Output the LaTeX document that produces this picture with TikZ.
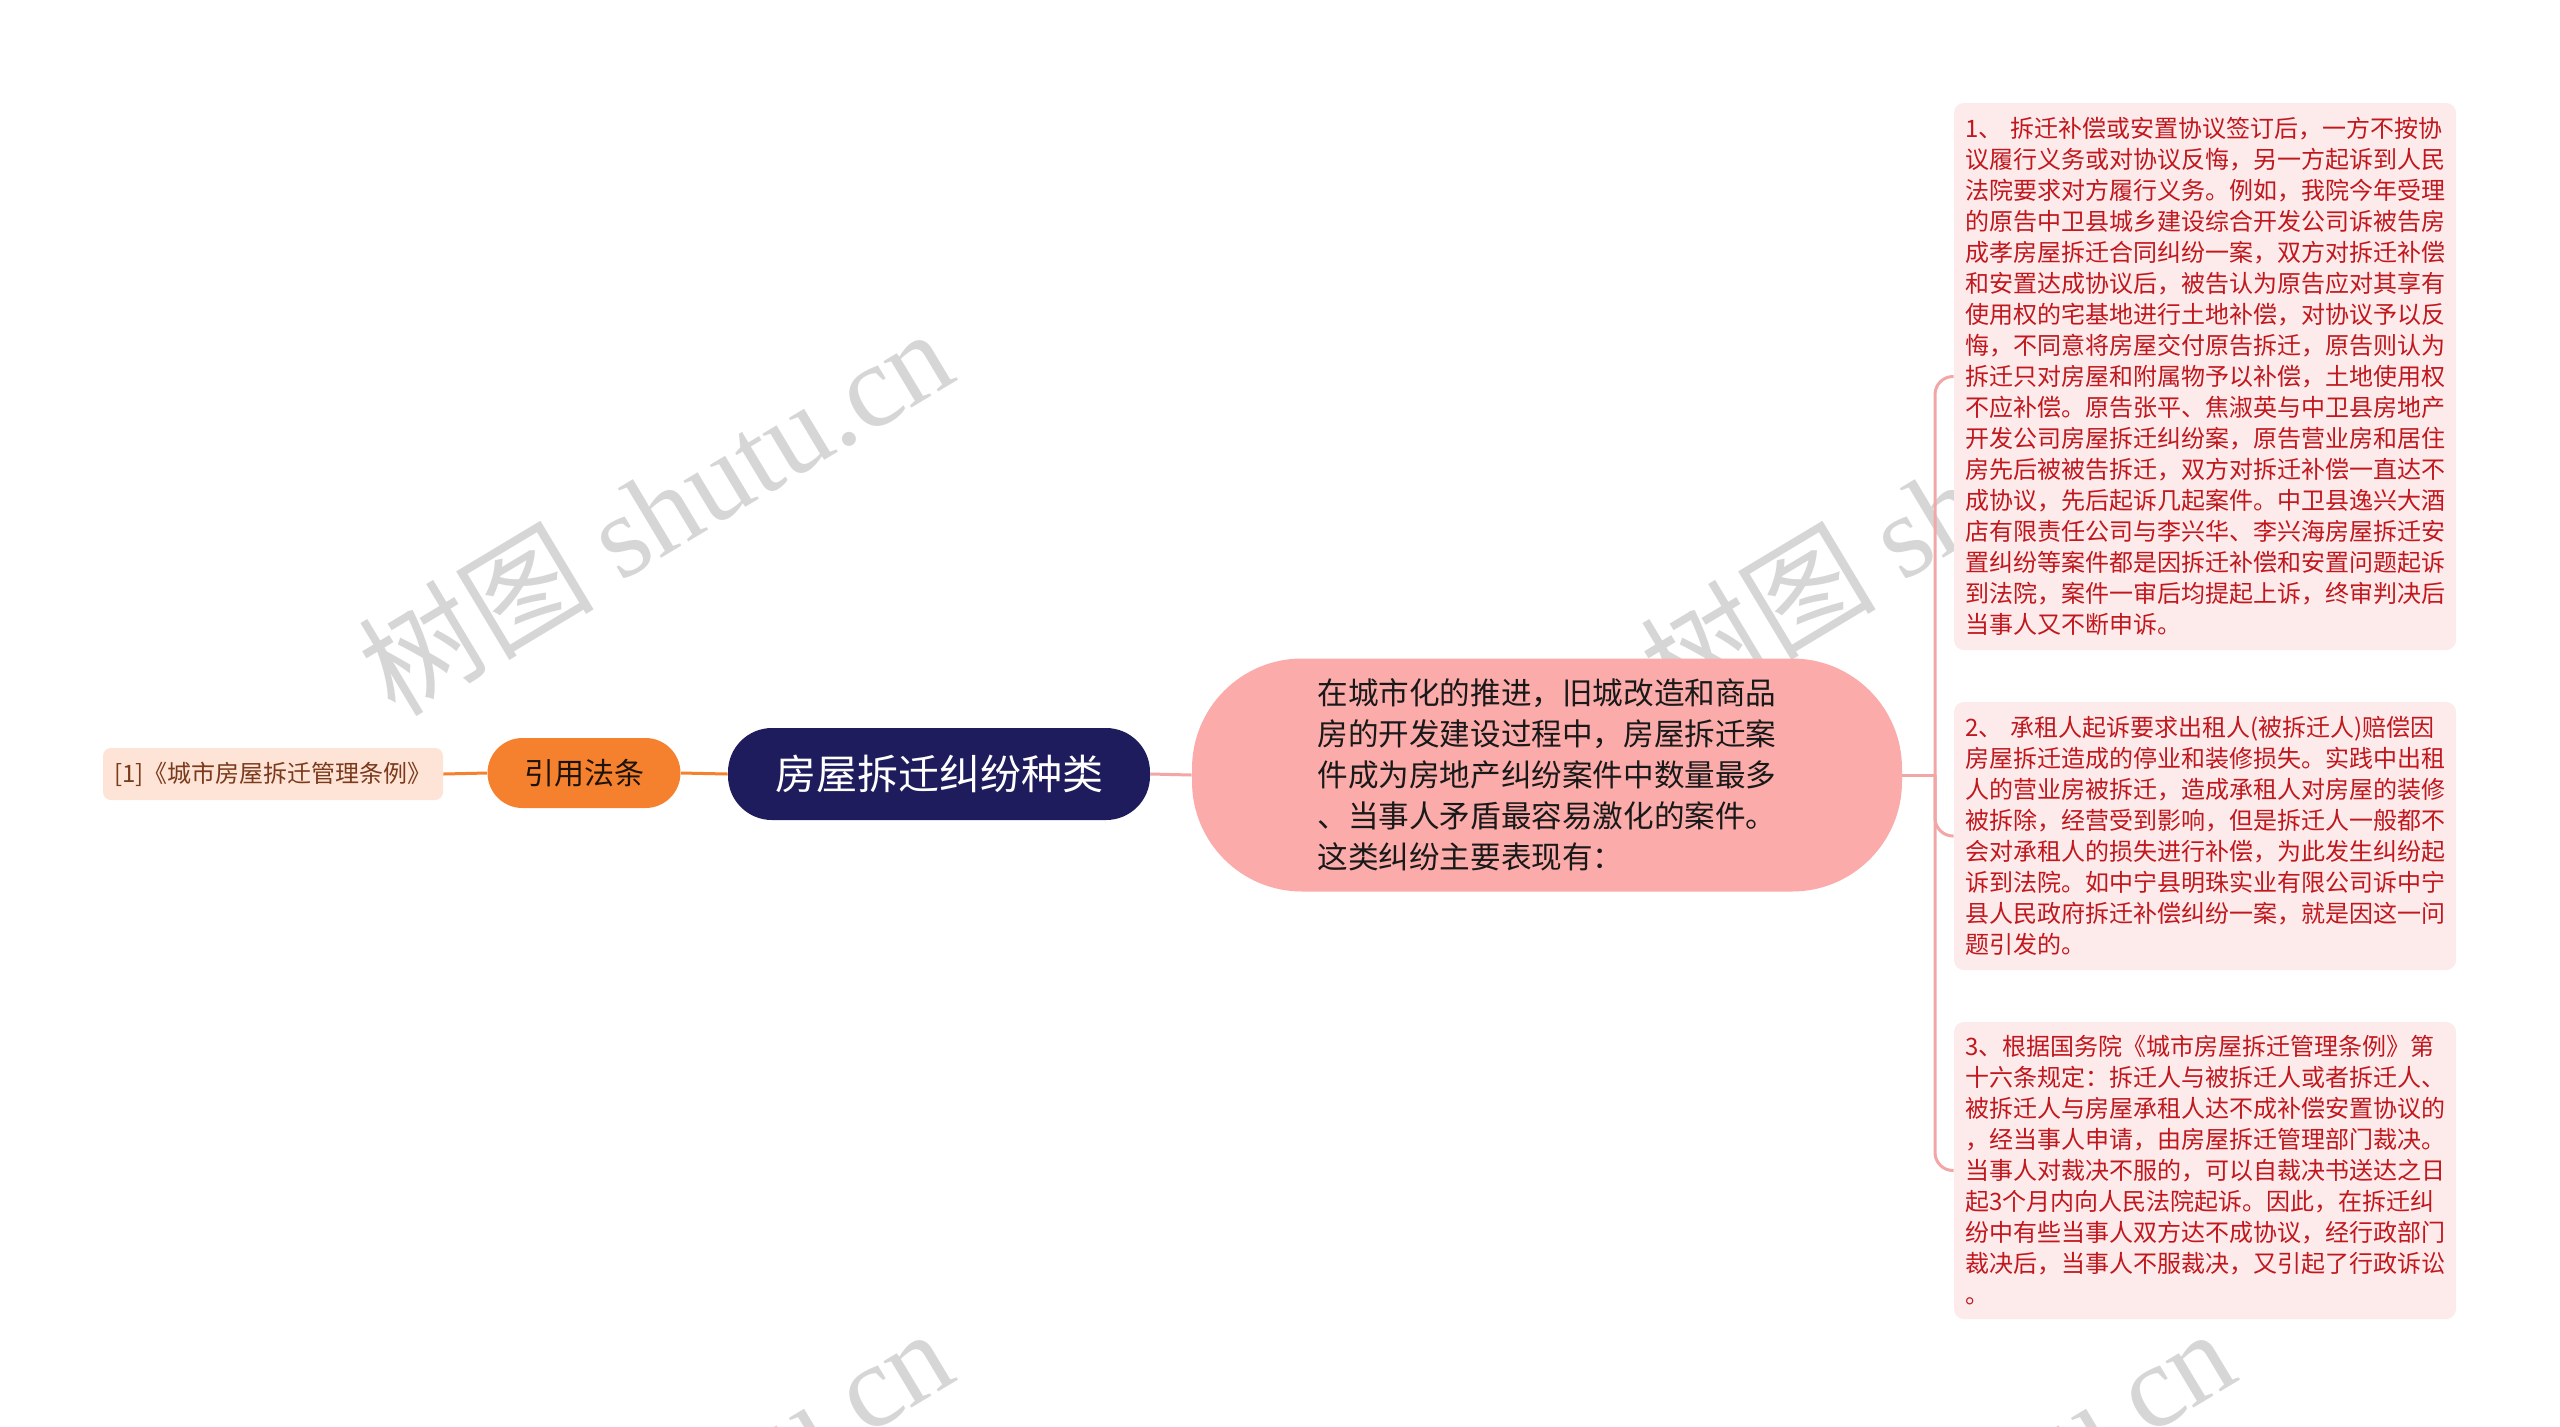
\documentclass[tikz,border=0pt]{standalone}
\usepackage{fontspec}
\setmainfont{Noto Sans CJK SC}
\newfontfamily\wmserif{Liberation Serif}
\definecolor{navy}{HTML}{1E1C5C}
\definecolor{orng}{HTML}{F5812F}
\definecolor{peach}{HTML}{FDE4D6}
\definecolor{brownt}{HTML}{7B3A1C}
\definecolor{salmon}{HTML}{FBABA9}
\definecolor{pinkline}{HTML}{F2A6A6}
\definecolor{boxfill}{HTML}{FDEBEB}
\definecolor{redt}{HTML}{C0181E}
\definecolor{wmgray}{HTML}{D6D6D6}
\begin{document}
\begin{tikzpicture}[x=0.5pt,y=-0.5pt,
  wm/.style={rotate=31,text=wmgray,font=\fontsize{59}{59}\selectfont},
  refbox/.style={fill=peach,rounded corners=4pt,minimum width=170pt,minimum height=26pt,text=brownt,font=\fontsize{12}{14}\selectfont,inner sep=0pt},
  lawbox/.style={fill=orng,rounded corners=17.5pt,minimum width=96.5pt,minimum height=35pt,text=black!85!brown,font=\fontsize{15}{18}\selectfont,inner sep=0pt},
  rootbox/.style={fill=navy,rounded corners=22pt,minimum width=211pt,minimum height=46pt,text=white,font=\fontsize{20.5}{24}\selectfont,inner sep=0pt},
  centbox/.style={fill=salmon,rounded corners=55pt,minimum width=355pt,minimum height=116.5pt,text=black!90,font=\fontsize{15.3}{20.5}\selectfont,align=left,inner sep=0pt},
  detbox/.style={fill=boxfill,rounded corners=5pt,minimum width=251pt,text width=240pt,inner xsep=5.5pt,text=redt,font=\fontsize{12}{15.5}\selectfont,align=left},
  oline/.style={draw=orng,line width=1.5pt},
  pline/.style={draw=pinkline,line width=1.5pt}
]
\useasboundingbox[fill=white] (0,0) rectangle (2560,1426);
% watermarks
\node[wm] (wm1) at (655,510) {树图 {\wmserif shutu.cn}};
\node[wm] (wm2) at (1937,510) {树图 {\wmserif shutu.cn}};
\node[wm] (wm3) at (655,1510) {树图 {\wmserif shutu.cn}};
\node[wm] (wm4) at (1937,1510) {树图 {\wmserif shutu.cn}};
% nodes
\node[refbox] (ref) at (273,774) {[1]《城市房屋拆迁管理条例》};
\node[lawbox] (law) at (584,773) {引用法条};
\node[rootbox] (root) at (939,774) {房屋拆迁纠纷种类};
\node[centbox] (cent) at (1547,775) {在城市化的推进，旧城改造和商品\\房的开发建设过程中，房屋拆迁案\\件成为房地产纠纷案件中数量最多\\、当事人矛盾最容易激化的案件。\\这类纠纷主要表现有：};
\node[detbox,minimum height=273.5pt] (b1) at (2205,376.5) {1、 拆迁补偿或安置协议签订后，一方不按协\\议履行义务或对协议反悔，另一方起诉到人民\\法院要求对方履行义务。例如，我院今年受理\\的原告中卫县城乡建设综合开发公司诉被告房\\成孝房屋拆迁合同纠纷一案，双方对拆迁补偿\\和安置达成协议后，被告认为原告应对其享有\\使用权的宅基地进行土地补偿，对协议予以反\\悔，不同意将房屋交付原告拆迁，原告则认为\\拆迁只对房屋和附属物予以补偿，土地使用权\\不应补偿。原告张平、焦淑英与中卫县房地产\\开发公司房屋拆迁纠纷案，原告营业房和居住\\房先后被被告拆迁，双方对拆迁补偿一直达不\\成协议，先后起诉几起案件。中卫县逸兴大酒\\店有限责任公司与李兴华、李兴海房屋拆迁安\\置纠纷等案件都是因拆迁补偿和安置问题起诉\\到法院，案件一审后均提起上诉，终审判决后\\当事人又不断申诉。};
\node[detbox,minimum height=134pt] (b2) at (2205,836) {2、 承租人起诉要求出租人(被拆迁人)赔偿因\\房屋拆迁造成的停业和装修损失。实践中出租\\人的营业房被拆迁，造成承租人对房屋的装修\\被拆除，经营受到影响，但是拆迁人一般都不\\会对承租人的损失进行补偿，为此发生纠纷起\\诉到法院。如中宁县明珠实业有限公司诉中宁\\县人民政府拆迁补偿纠纷一案，就是因这一问\\题引发的。};
\node[detbox,minimum height=148.5pt] (b3) at (2205,1170.5) {3、根据国务院《城市房屋拆迁管理条例》第\\十六条规定：拆迁人与被拆迁人或者拆迁人、\\被拆迁人与房屋承租人达不成补偿安置协议的\\，经当事人申请，由房屋拆迁管理部门裁决。\\当事人对裁决不服的，可以自裁决书送达之日\\起3个月内向人民法院起诉。因此，在拆迁纠\\纷中有些当事人双方达不成协议，经行政部门\\裁决后，当事人不服裁决，又引起了行政诉讼\\。};
% connectors
\coordinate (fork) at (1935,775);
\draw[oline] (ref.east) -- (law.west);
\draw[oline] (law.east) -- (root.west);
\draw[pline] (root.east) -- (cent.west);
\draw[pline] (cent.east) -- (fork);
\draw[pline,rounded corners=9pt] (fork) |- (b1.west);
\draw[pline,rounded corners=9pt] (fork) |- (b2.west);
\draw[pline,rounded corners=9pt] (fork) |- (b3.west);
\end{tikzpicture}
\end{document}
